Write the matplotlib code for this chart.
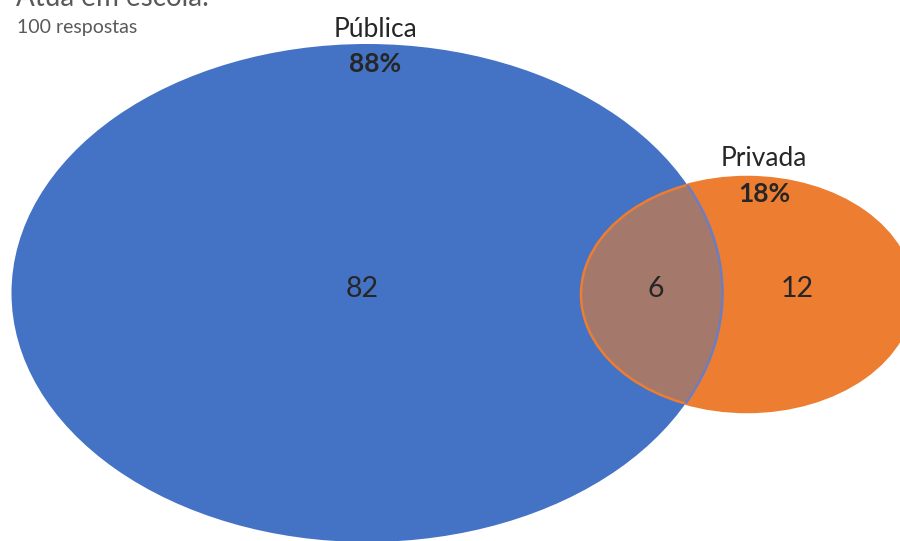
import matplotlib
matplotlib.use("Agg")
import matplotlib.pyplot as plt
from matplotlib.patches import Ellipse

# Data
title = "Atua em escola:"
subtitle = "100 respostas"
set_names = ["Pública", "Privada"]
set_percent = [88, 18]
region_counts = {"only_publica": 82, "both": 6, "only_privada": 12}

colors = {"publica": "#4472C4", "privada": "#ED7D31", "both": "#A5786C"}

plt.rcParams['font.family'] = ['Lato', 'DejaVu Sans']

fig = plt.figure(figsize=(9, 5.41), dpi=100)
ax = fig.add_axes([0, 0, 1, 1])
ax.set_xlim(0, 900)
ax.set_ylim(541, 0)
ax.axis('off')

# geometry (pixel space)
blue_c, blue_w, blue_h = (367, 293), 711, 498
or_c, or_w, or_h = (747, 294.5), 332, 235

blue = Ellipse(blue_c, blue_w, blue_h, facecolor=colors["publica"], edgecolor='none', zorder=1)
ax.add_patch(blue)
orange = Ellipse(or_c, or_w, or_h, facecolor=colors["privada"], edgecolor='none', zorder=2)
ax.add_patch(orange)

inter = Ellipse(or_c, or_w, or_h, facecolor=colors["both"], edgecolor='none', zorder=3)
ax.add_patch(inter)
inter.set_clip_path(blue)

# outlines
or_edge = Ellipse(or_c, or_w, or_h, facecolor='none', edgecolor=colors["privada"], lw=1.8, zorder=4)
ax.add_patch(or_edge)
bl_edge = Ellipse(blue_c, blue_w, blue_h, facecolor='none', edgecolor='#6D7DBE', lw=1.8, zorder=4)
ax.add_patch(bl_edge)
bl_edge.set_clip_path(orange)

txt = '#262626'
ax.text(16, 6, title, fontsize=20, color='#595959', ha='left', va='baseline')
ax.text(17, 33, subtitle, fontsize=14, color='#595959', ha='left', va='baseline')

ax.text(375, 37, set_names[0], fontsize=19, color=txt, ha='center', va='baseline')
ax.text(375, 72, f"{set_percent[0]}%", fontsize=19, color=txt, ha='center', va='baseline', fontweight='bold')
ax.text(764, 166, set_names[1], fontsize=19, color=txt, ha='center', va='baseline')
ax.text(764, 202, f"{set_percent[1]}%", fontsize=19, color=txt, ha='center', va='baseline', fontweight='bold')

ax.text(362, 297, str(region_counts["only_publica"]), fontsize=20.5, color=txt, ha='center', va='baseline')
ax.text(656, 297, str(region_counts["both"]), fontsize=20.5, color=txt, ha='center', va='baseline')
ax.text(797, 297, str(region_counts["only_privada"]), fontsize=20.5, color=txt, ha='center', va='baseline')

fig.savefig("out.png", dpi=100)
